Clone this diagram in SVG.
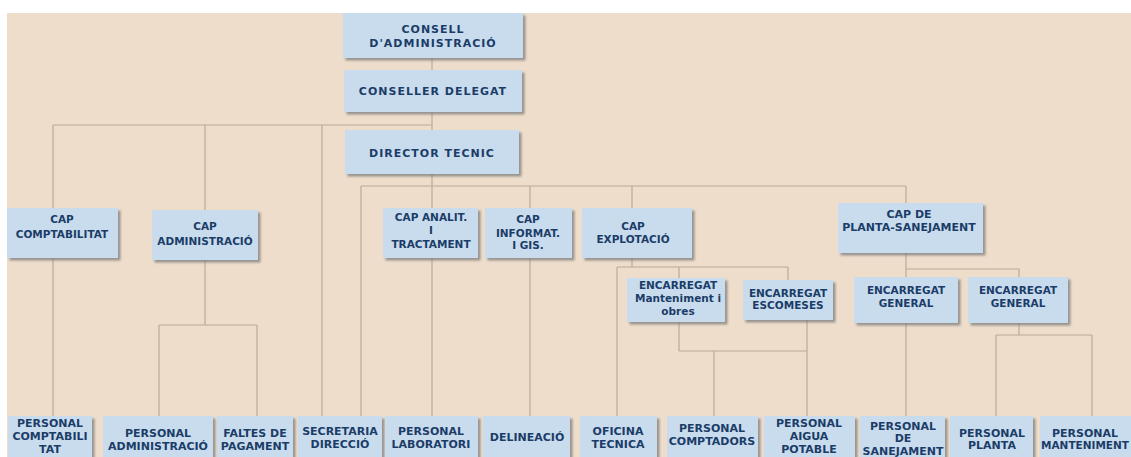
<svg xmlns="http://www.w3.org/2000/svg" width="1131" height="457" viewBox="0 0 1131 457">
<defs>
<filter id="sh" x="-10%" y="-10%" width="130%" height="140%">
<feDropShadow dx="2.5" dy="2.5" stdDeviation="1" flood-color="#7a7a7a" flood-opacity="0.75"/>
</filter>
</defs>
<style>
.bx{fill:#C8DCEE;filter:url(#sh);}
.t{font-family:"DejaVu Sans","Liberation Sans",sans-serif;font-weight:bold;font-size:11px;fill:#1C3C68;text-anchor:middle;}
.tt{letter-spacing:1px;}
.tm{font-size:10.5px;}
.ln{stroke:#BBAA98;stroke-width:1.2;fill:none;}
</style>
<rect x="0" y="0" width="1131" height="457" fill="#ffffff"/>
<rect x="7" y="13" width="1124" height="444" fill="#EEDDCB"/>
<g id="connectors">
<path class="ln" d="M432 58V416"/>
<path class="ln" d="M53 125H432"/>
<path class="ln" d="M53 125V416"/>
<path class="ln" d="M205 125V325"/>
<path class="ln" d="M159 325H257M159 325V416M257 325V416"/>
<path class="ln" d="M322 125V416"/>
<path class="ln" d="M361 186H906"/>
<path class="ln" d="M361 186V416"/>
<path class="ln" d="M530 186V416"/>
<path class="ln" d="M632 186V267"/>
<path class="ln" d="M617 267H788M617 267V416M679 267V351M788 267V280"/>
<path class="ln" d="M679 351H807M714 351V416M807 320V416"/>
<path class="ln" d="M906 186V416"/>
<path class="ln" d="M906 269H1019V335"/>
<path class="ln" d="M996 335H1092M996 335V416M1092 335V416"/>
</g>
<g id="consell">
<rect class="bx" x="343" y="13" width="180" height="45"/>
<text class="t tt" x="433" y="33">CONSELL</text>
<text class="t tt" x="433" y="47">D'ADMINISTRACIÓ</text>
</g>
<g id="conseller-delegat">
<rect class="bx" x="344" y="70" width="178" height="42"/>
<text class="t tt" x="433" y="95">CONSELLER DELEGAT</text>
</g>
<g id="director-tecnic">
<rect class="bx" x="345" y="130" width="174" height="44"/>
<text class="t tt" x="432" y="157">DIRECTOR TECNIC</text>
</g>
<g id="cap-comptabilitat">
<rect class="bx" x="7" y="208" width="111" height="50"/>
<text class="t tm" x="62" y="223">CAP</text>
<text class="t tm" x="62" y="238">COMPTABILITAT</text>
</g>
<g id="cap-administracio">
<rect class="bx" x="152" y="210" width="106" height="50"/>
<text class="t tm" x="205" y="230">CAP</text>
<text class="t tm" x="205" y="245">ADMINISTRACIÓ</text>
</g>
<g id="cap-analit">
<rect class="bx" x="383" y="208" width="95" height="50"/>
<text class="t tm" x="431" y="221">CAP ANALIT.</text>
<text class="t tm" x="431" y="234">I</text>
<text class="t tm" x="431" y="248">TRACTAMENT</text>
</g>
<g id="cap-informat">
<rect class="bx" x="485" y="208" width="87" height="50"/>
<text class="t tm" x="528" y="223">CAP</text>
<text class="t tm" x="528" y="237">INFORMAT.</text>
<text class="t tm" x="528" y="249">I GIS.</text>
</g>
<g id="cap-explotacio">
<rect class="bx" x="582" y="208" width="110" height="50"/>
<text class="t tm" x="633" y="230">CAP</text>
<text class="t tm" x="633" y="243">EXPLOTACIÓ</text>
</g>
<g id="cap-planta-sanejament">
<rect class="bx" x="838" y="203" width="145" height="50"/>
<text class="t" x="909" y="218">CAP DE</text>
<text class="t" x="909" y="231">PLANTA-SANEJAMENT</text>
</g>
<g id="encarregat-manteniment">
<rect class="bx" x="627" y="278" width="98" height="44"/>
<text class="t tm" x="678" y="289">ENCARREGAT</text>
<text class="t tm" x="678" y="302">Manteniment i</text>
<text class="t tm" x="678" y="315">obres</text>
</g>
<g id="encarregat-escomeses">
<rect class="bx" x="743" y="280" width="90" height="40"/>
<text class="t tm" x="788" y="297">ENCARREGAT</text>
<text class="t tm" x="788" y="309">ESCOMESES</text>
</g>
<g id="encarregat-general-1">
<rect class="bx" x="854" y="277" width="104" height="46"/>
<text class="t tm" x="906" y="294">ENCARREGAT</text>
<text class="t tm" x="906" y="307">GENERAL</text>
</g>
<g id="encarregat-general-2">
<rect class="bx" x="968" y="277" width="100" height="46"/>
<text class="t tm" x="1018" y="294">ENCARREGAT</text>
<text class="t tm" x="1018" y="307">GENERAL</text>
</g>
<g id="personal-comptabilitat">
<rect class="bx" x="8" y="416" width="84" height="48"/>
<text class="t" x="50" y="427">PERSONAL</text>
<text class="t" x="50" y="440">COMPTABILI</text>
<text class="t" x="50" y="453">TAT</text>
</g>
<g id="personal-administracio">
<rect class="bx" x="103" y="416" width="110" height="48"/>
<text class="t" x="158" y="437">PERSONAL</text>
<text class="t" x="158" y="450">ADMINISTRACIÓ</text>
</g>
<g id="faltes-pagament">
<rect class="bx" x="217" y="416" width="76" height="48"/>
<text class="t" x="255" y="437">FALTES DE</text>
<text class="t" x="255" y="450">PAGAMENT</text>
</g>
<g id="secretaria-direccio">
<rect class="bx" x="298" y="416" width="84" height="48"/>
<text class="t" x="340" y="435">SECRETARIA</text>
<text class="t" x="340" y="448">DIRECCIÓ</text>
</g>
<g id="personal-laboratori">
<rect class="bx" x="385" y="416" width="93" height="48"/>
<text class="t" x="431" y="435">PERSONAL</text>
<text class="t" x="431" y="448">LABORATORI</text>
</g>
<g id="delineacio">
<rect class="bx" x="483" y="416" width="87" height="48"/>
<text class="t" x="527" y="441">DELINEACIÓ</text>
</g>
<g id="oficina-tecnica">
<rect class="bx" x="580" y="416" width="77" height="48"/>
<text class="t" x="618" y="435">OFICINA</text>
<text class="t" x="618" y="448">TECNICA</text>
</g>
<g id="personal-comptadors">
<rect class="bx" x="667" y="416" width="91" height="48"/>
<text class="t" x="712" y="432">PERSONAL</text>
<text class="t" x="712" y="445">COMPTADORS</text>
</g>
<g id="personal-aigua-potable">
<rect class="bx" x="764" y="416" width="91" height="48"/>
<text class="t" x="809" y="427">PERSONAL</text>
<text class="t" x="809" y="440">AIGUA</text>
<text class="t" x="809" y="453">POTABLE</text>
</g>
<g id="personal-sanejament">
<rect class="bx" x="860" y="416" width="85" height="48"/>
<text class="t" x="903" y="430">PERSONAL</text>
<text class="t" x="903" y="442">DE</text>
<text class="t" x="903" y="455">SANEJAMENT</text>
</g>
<g id="personal-planta">
<rect class="bx" x="950" y="416" width="83" height="48"/>
<text class="t" x="992" y="437">PERSONAL</text>
<text class="t" x="992" y="449">PLANTA</text>
</g>
<g id="personal-manteniment">
<rect class="bx" x="1040" y="416" width="100" height="48"/>
<text class="t" x="1085" y="437">PERSONAL</text>
<text class="t tm" x="1085" y="449">MANTENIMENT</text>
</g>
</svg>
